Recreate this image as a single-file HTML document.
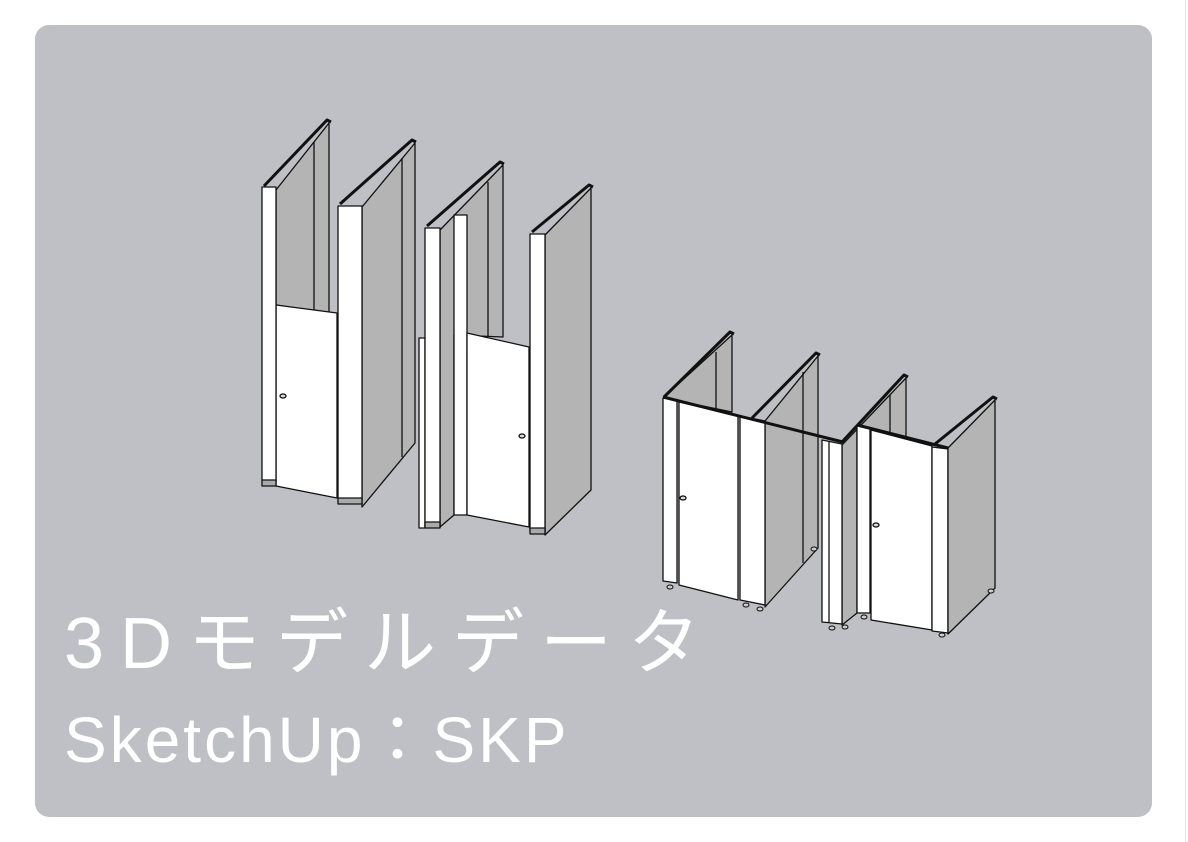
<!DOCTYPE html>
<html><head><meta charset="utf-8"><style>
html,body{margin:0;padding:0;background:#fff;width:1188px;height:842px;overflow:hidden;position:relative}
.card{position:absolute;left:35px;top:25px;width:1117px;height:792px;background:#bfc0c5;border-radius:14px}
.edge{position:absolute;left:1185px;top:0;width:1px;height:842px;background:#e4e4e6}
.t1{position:absolute;left:64px;top:608px;color:#fff;font-family:"Liberation Sans","Noto Sans CJK JP",sans-serif;font-size:72px;letter-spacing:16px;white-space:nowrap;line-height:1;font-weight:400}
.t2{position:absolute;left:64px;top:708px;color:#fff;font-family:"Liberation Sans","Noto Sans CJK JP",sans-serif;font-size:64px;letter-spacing:3px;white-space:nowrap;line-height:1}
svg{position:absolute;left:0;top:0}
</style></head><body>
<div class="card"></div><div class="edge"></div>
<svg width="1188" height="842" viewBox="0 0 1188 842">
<g stroke="#111" stroke-width="1.3" stroke-linejoin="round">
<polygon points="276,190 329,123 329,313 276,305" fill="#b4b4b4"/>
<line x1="314" y1="142" x2="314" y2="310"/>
<polyline points="264,186 327,120 331,122" fill="none" stroke-width="3"/>
<polygon points="276,305 337,313 337,498 276,486" fill="#fff"/>
<polygon points="262,187 276,187 276,482 262,480" fill="#fff"/>
<rect x="262" y="480" width="14" height="6" fill="#aaa"/>
<polygon points="362,207 415,143 415,443 362,507" fill="#b4b4b4"/>
<line x1="402" y1="158" x2="402" y2="457"/>
<polyline points="340,204 412,140 416,142" fill="none" stroke-width="3"/>
<polygon points="338,206 362,206 362,500 338,498" fill="#fff"/>
<rect x="338" y="498" width="24" height="6" fill="#aaa"/>
<ellipse cx="283" cy="396" rx="3" ry="2" fill="#ddd"/>
<polygon points="440,230 503,165 503,337 454,335 454,515 440,527" fill="#b4b4b4"/>
<line x1="488" y1="182" x2="488" y2="336"/>
<polyline points="427,226 500,162 504,164" fill="none" stroke-width="3"/>
<rect x="419" y="338" width="6" height="190" fill="#fff"/>
<polygon points="425,228 440,228 440,527 425,527" fill="#fff"/>
<rect x="425" y="522" width="15" height="6" fill="#aaa"/>
<polygon points="454,215 467,215 467,515 454,515" fill="#fff"/>
<polygon points="467,333 529,347 529,527 467,515" fill="#fff"/>
<ellipse cx="522" cy="436" rx="3" ry="2" fill="#ddd"/>
<polygon points="545,235 591,188 591,490 545,535" fill="#b4b4b4"/>
<polyline points="532,232 589,185 593,187" fill="none" stroke-width="3"/>
<polygon points="530,234 545,234 545,532 530,530" fill="#fff"/>
<rect x="530" y="528" width="15" height="6" fill="#aaa"/>
<polygon points="664,397 732,335 732,412 664,398" fill="#b4b4b4"/>
<line x1="716" y1="352" x2="716" y2="408"/>
<polyline points="664,397 730,332 734,334" fill="none" stroke-width="3"/>
<polygon points="765,421 818,356 818,548 765,607" fill="#b4b4b4"/>
<line x1="803" y1="372" x2="803" y2="563"/>
<polyline points="752,418 816,353 820,355" fill="none" stroke-width="3"/>
<polygon points="663,398 677,400 677,583 663,581" fill="#fff"/>
<polygon points="679,402 738,415 738,600 679,585" fill="#fff"/>
<polygon points="740,416 765,421 765,605 740,600" fill="#fff"/>
<polyline points="663,397 843,442" fill="none" stroke-width="3"/>
<ellipse cx="683" cy="498" rx="3" ry="2" fill="#ddd"/>
<polygon points="842,445 906,378 906,437 857,425 857,613 842,625" fill="#b4b4b4"/>
<line x1="890" y1="395" x2="890" y2="435"/>
<polyline points="842,442 904,375 908,377" fill="none" stroke-width="3"/>
<polygon points="822,440 842,444 842,624 822,622" fill="#fff"/>
<line x1="829" y1="442" x2="829" y2="623"/>
<polygon points="857,425 870,428 870,613 857,613" fill="#fff"/>
<polygon points="871,430 932,446 932,630 871,620" fill="#fff"/>
<polygon points="932,447 948,449 948,633 932,631" fill="#fff"/>
<polygon points="948,448 995,400 995,588 948,634" fill="#b4b4b4"/>
<polyline points="935,444 993,397 997,399" fill="none" stroke-width="3"/>
<polyline points="857,425 948,448" fill="none" stroke-width="3"/>
<ellipse cx="876" cy="525" rx="3" ry="2" fill="#ddd"/>
<g fill="#ccc" stroke-width="1">
<ellipse cx="670" cy="587" rx="3" ry="2"/><ellipse cx="746" cy="605" rx="3" ry="2"/><ellipse cx="760" cy="609" rx="3" ry="2"/>
<ellipse cx="814" cy="549" rx="3" ry="2"/><ellipse cx="832" cy="628" rx="3" ry="2"/><ellipse cx="845" cy="627" rx="3" ry="2"/>
<ellipse cx="864" cy="617" rx="3" ry="2"/><ellipse cx="942" cy="635" rx="3" ry="2"/><ellipse cx="991" cy="591" rx="3" ry="2"/>
</g>
</g>
</svg>
<div class="t1">3Dモデルデータ</div>
<div class="t2">SketchUp：SKP</div>
</body></html>
